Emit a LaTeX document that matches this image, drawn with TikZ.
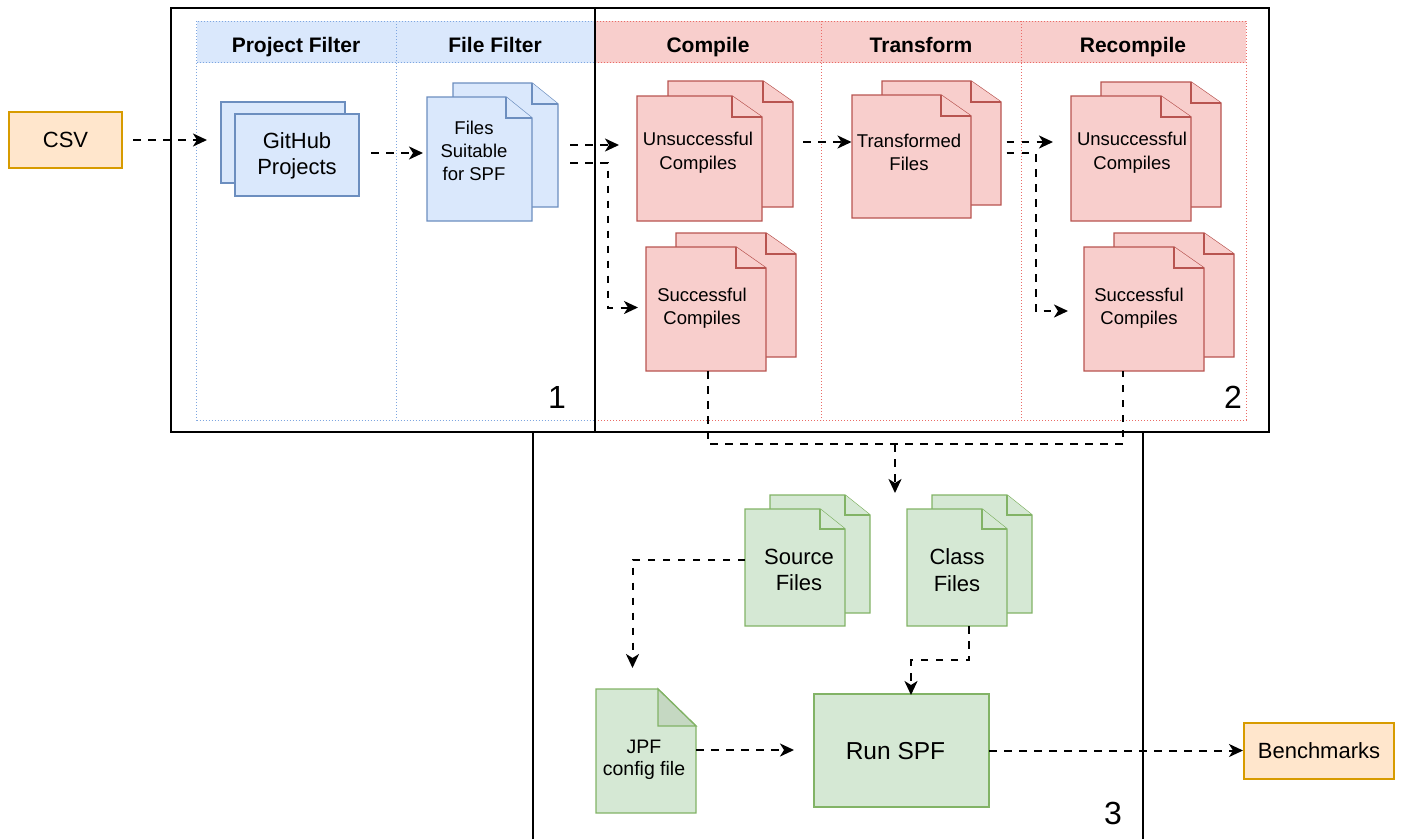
\documentclass[tikz,border=0pt]{standalone}
\usepackage{fontspec}
\setmainfont{Liberation Sans}
\usetikzlibrary{arrows.meta}
\definecolor{bfill}{HTML}{DAE8FC}
\definecolor{bline}{HTML}{6C8EBF}
\definecolor{blane}{HTML}{7EA6E0}
\definecolor{rfill}{HTML}{F8CECC}
\definecolor{rline}{HTML}{B85450}
\definecolor{rlane}{HTML}{EA6B66}
\definecolor{gfill}{HTML}{D5E8D4}
\definecolor{gline}{HTML}{82B366}
\definecolor{gfold}{HTML}{C5D8C2}
\definecolor{ofill}{HTML}{FFE6CC}
\definecolor{oline}{HTML}{D79B00}
\newcommand\fs[2]{\fontsize{#1}{#2}\selectfont}
% document shape: x1,y1,x2,y2,foldx,foldy,style
\newcommand\docshape[7]{%
  \draw[#7] (#1,#2) -- ({#3-#5},#2) -- (#3,{#2+#6}) -- (#3,#4) -- (#1,#4) -- cycle;
  \draw[#7] ({#3-#5},#2) -- ({#3-#5},{#2+#6}) -- (#3,{#2+#6});}
\begin{document}
\begin{tikzpicture}[x=1pt,y=-1pt,
  blueshape/.style={fill=bfill,draw=bline,line width=1.3pt},
  redshape/.style={fill=rfill,draw=rline,line width=1.3pt},
  greenshape/.style={fill=gfill,draw=gline,line width=1.3pt},
  orangebox/.style={fill=ofill,draw=oline,line width=1.3pt,rectangle,inner sep=0pt},
  txt/.style={align=center,inner sep=0pt,text=black},
  hdr/.style={inner sep=0pt,anchor=base,font=\fs{21}{25}\bfseries},
  bigno/.style={inner sep=0pt,font=\fs{32}{36}},
  bdot/.style={draw=blane,line width=1pt,dash pattern=on 1pt off 2pt},
  rdot/.style={draw=rlane,line width=1pt,dash pattern=on 1pt off 2pt},
  frame/.style={draw=black,line width=2pt},
  conn/.style={draw=black,line width=2pt,dash pattern=on 7.5pt off 7.5pt},
  arr/.style={conn,-{Stealth[length=14pt,width=13pt,inset=4pt]}}]
\useasboundingbox (0,0) rectangle (1401,839);

% ---------- swimlanes ----------
\fill[bfill] (196.5,21) rectangle (595,62.5);
\fill[rfill] (595,21) rectangle (1246,62.5);
\draw[bdot] (196.5,21) rectangle (595,420);
\draw[bdot] (196.5,62.5) -- (595,62.5);
\draw[bdot] (396.5,21) -- (396.5,420);
\draw[rdot] (595,21) rectangle (1246,420);
\draw[rdot] (595,62.5) -- (1246,62.5);
\draw[rdot] (821,21) -- (821,420);
\draw[rdot] (1021.5,21) -- (1021.5,420);
\node[hdr] (h1) at (296,52) {Project Filter};
\node[hdr] (h2) at (495,52) {File Filter};
\node[hdr] (h3) at (708,52) {Compile};
\node[hdr] (h4) at (921,52) {Transform};
\node[hdr] (h5) at (1133,52) {Recompile};

% ---------- frames ----------
\draw[frame] (171,8) rectangle (595,432);
\draw[frame] (595,8) rectangle (1269,432);
\draw[frame] (533,839) -- (533,432) -- (1143,432) -- (1143,839);
\node[bigno] (n1) at (557,397) {1};
\node[bigno] (n2) at (1233,397) {2};
\node[bigno] (n3) at (1113,813) {3};

% ---------- shapes ----------
\node[orangebox,minimum width=113pt,minimum height=56pt,font=\fs{22}{26}] (csv) at (65.5,140) {CSV};
\node[orangebox,minimum width=150pt,minimum height=56pt,font=\fs{22}{26}] (bench) at (1319,751) {Benchmarks};

\draw[blueshape] (221,102) rectangle (345,183);
\draw[blueshape] (235,114) rectangle (359,196);
\node[txt,font=\fs{22}{25.5}] (gh) at (297,156) {GitHub\\Projects};

\docshape{453}{83}{558}{207}{26}{21}{blueshape}
\docshape{427}{97}{532}{221}{26}{21}{blueshape}
\node[txt,font=\fs{18.5}{23}] (fs) at (474,150.5) {Files\\Suitable\\for SPF};

\docshape{668}{81}{793}{207}{30}{21}{redshape}
\docshape{637}{96}{762}{221}{30}{21}{redshape}
\node[txt,font=\fs{18.5}{24}] (uc1) at (698,153) {Unsuccessful\\Compiles};

\docshape{676}{233}{796}{357}{30}{21}{redshape}
\docshape{646}{247}{766}{371}{30}{21}{redshape}
\node[txt,font=\fs{18.5}{23}] (sc1) at (702,308) {Successful\\Compiles};

\docshape{882}{81}{1001}{205}{30}{21}{redshape}
\docshape{852}{95}{971}{218}{30}{21}{redshape}
\node[txt,font=\fs{18.5}{22.5}] (tf) at (909,152.5) {Transformed\\Files};

\docshape{1101}{82}{1221}{207}{30}{21}{redshape}
\docshape{1071}{96}{1191}{221}{30}{21}{redshape}
\node[txt,font=\fs{18.5}{24}] (uc2) at (1132,153) {Unsuccessful\\Compiles};

\docshape{1114}{233}{1234}{357}{30}{21}{redshape}
\docshape{1084}{247}{1204}{371}{30}{21}{redshape}
\node[txt,font=\fs{18.5}{23}] (sc2) at (1139,308) {Successful\\Compiles};

\docshape{770}{495}{870}{613}{25}{20}{greenshape}
\docshape{745}{509}{845}{626}{25}{20}{greenshape}
\node[txt,font=\fs{22}{26.5}] (src) at (799,570) {Source\\Files};

\docshape{932}{495}{1032}{613}{25}{20}{greenshape}
\docshape{907}{509}{1007}{626}{25}{20}{greenshape}
\node[txt,font=\fs{22}{26.5}] (cls) at (957,570) {Class\\Files};

\draw[greenshape] (596,689) -- (658,689) -- (696,726) -- (696,813) -- (596,813) -- cycle;
\draw[greenshape,fill=gfold] (658,689) -- (658,726) -- (696,726) -- cycle;
\node[txt,font=\fs{19.5}{22.5}] (jpf) at (644,760) {JPF\\config file};

\node[greenshape,rectangle,minimum width=175pt,minimum height=113pt,inner sep=0pt] (run) at (901.5,750.5) {};
\node[txt,font=\fs{24.5}{28}] (runtxt) at (895.5,751) {Run SPF};

% ---------- connector end points ----------
\coordinate (csvout) at (133,140);
\coordinate (ghin) at (207,140);
\coordinate (ghout) at (371,153);
\coordinate (fsin) at (423,153);
\coordinate (fsout1) at (570,145);
\coordinate (uc1in) at (619,145);
\coordinate (fsout2) at (570,163);
\coordinate (sc1in) at (638,307.5);
\coordinate (uc1out) at (803,142);
\coordinate (tfin) at (851.5,142);
\coordinate (tfout1) at (1006.5,142);
\coordinate (uc2in) at (1053,142);
\coordinate (tfout2) at (1006.5,153);
\coordinate (sc2in) at (1068,311);
\coordinate (sc1out) at (708,371);
\coordinate (sc2out) at (1123,371);
\coordinate (merge) at (895,444);
\coordinate (merged) at (895,493);
\coordinate (srcout) at (745,560);
\coordinate (jpfin) at (632.5,668);
\coordinate (clsout) at (969,626);
\coordinate (runin) at (911,695);
\coordinate (jpfout) at (696,750);
\coordinate (runinl) at (794,750);
\coordinate (runout) at (989,750.5);
\coordinate (benchin) at (1243,750.5);

% ---------- connectors ----------
\draw[arr] (csvout) -- (ghin);
\draw[arr] (ghout) -- (fsin);
\draw[arr] (fsout1) -- (uc1in);
\draw[arr] (fsout2) -- (607.5,163) -- (607.5,307.5) -- (sc1in);
\draw[arr] (uc1out) -- (tfin);
\draw[arr] (tfout1) -- (uc2in);
\draw[arr] (tfout2) -- (1035.5,153) -- (1035.5,311) -- (sc2in);
\draw[conn] (sc1out) -- (708,444) -- (1123,444) -- (sc2out);
\draw[arr] (merge) -- (merged);
\draw[arr] (srcout) -- (632.5,560) -- (jpfin);
\draw[arr] (clsout) -- (969,660) -- (911,660) -- (runin);
\draw[arr] (jpfout) -- (runinl);
\draw[arr] (runout) -- (benchin);
\end{tikzpicture}
\end{document}
